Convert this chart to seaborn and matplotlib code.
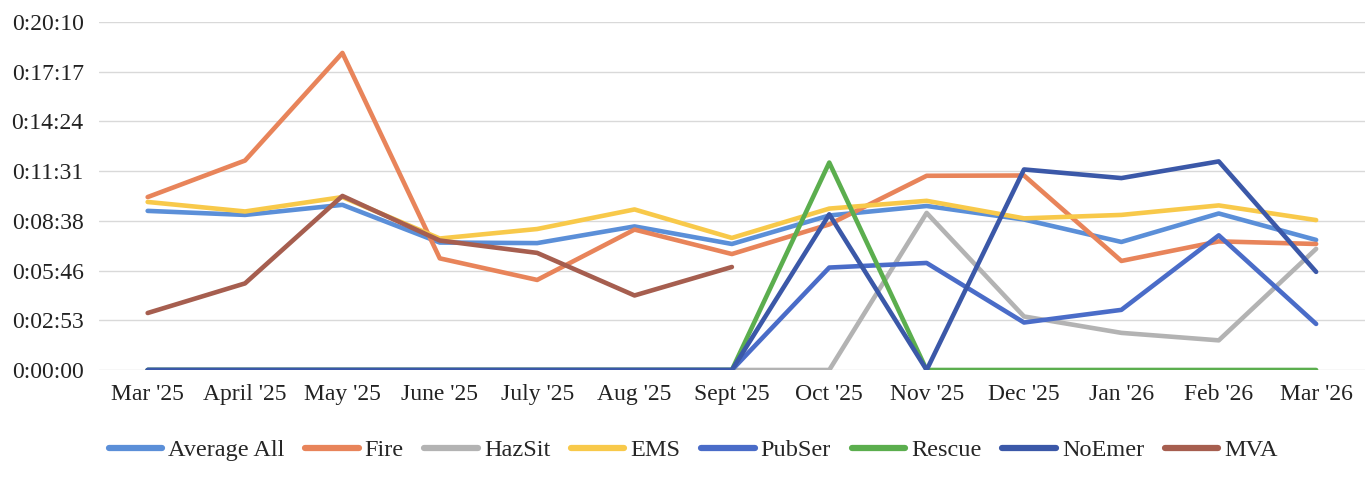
import numpy as np, pandas as pd
import matplotlib
matplotlib.use("Agg")
import matplotlib.pyplot as plt
import seaborn as sns
from matplotlib.ticker import FuncFormatter

# response times in seconds
months = ["Mar '25", "April '25", "May '25", "June '25", "July '25", "Aug '25", "Sept '25",
          "Oct '25", "Nov '25", "Dec '25", "Jan '26", "Feb '26", "Mar '26"]
average_all = [553, 539, 574, 443, 441, 499, 438, 537, 570, 523, 445, 544, 452]
fire = [601, 728, 1102, 388, 313, 488, 403, 506, 675, 676, 379, 447, 438]
hazsit = [0, 0, 0, 0, 0, 0, 0, 0, 546, 186, 129, 103, 421]
ems = [584, 551, 601, 457, 490, 558, 459, 561, 588, 527, 539, 572, 521]
pubser = [0, 0, 0, 0, 0, 0, 0, 356, 372, 165, 209, 468, 160]
rescue = [0, 0, 0, 0, 0, 0, 0, 721, 0, 0, 0, 0, 0]
noemer = [0, 0, 0, 0, 0, 0, 0, 541, 0, 697, 667, 725, 341]
mva = [198, 301, 605, 450, 407, 259, 358, np.nan, np.nan, np.nan, np.nan, np.nan, np.nan]

series = {"Average All": average_all, "Fire": fire, "HazSit": hazsit, "EMS": ems,
          "PubSer": pubser, "Rescue": rescue, "NoEmer": noemer, "MVA": mva}
colors = {"Average All": "#5B8FD8", "Fire": "#E8845A", "HazSit": "#B3B3B3", "EMS": "#F8C94A",
          "PubSer": "#4A6CC8", "Rescue": "#5BAE4E", "NoEmer": "#3B58A8", "MVA": "#A65E4F"}

df = pd.DataFrame({"month": months, **series}).melt(id_vars="month", var_name="type", value_name="secs")
df = df.dropna()

sns.set_style("white")
plt.rcParams["font.family"] = ["Liberation Serif", "DejaVu Serif"]

fig = plt.figure(figsize=(13.67, 4.79), dpi=100)
ax = fig.add_axes([0.0724, 0.2276, 0.926, 0.7265])
sns.lineplot(data=df, x="month", y="secs", hue="type", hue_order=list(series),
             palette=colors, linewidth=3.3, ax=ax, sort=False, legend=True)

ax.set_xlim(-0.5, len(months) - 0.5)
ax.set_ylim(0, 1209.6)
ax.set_yticks(np.arange(8) * 172.8)

def hms(v, pos):
    s = int(round(v))
    return f"{s // 3600}:{(s % 3600) // 60:02d}:{s % 60:02d}"

ax.yaxis.set_major_formatter(FuncFormatter(hms))
ax.grid(axis="y", color="#D9D9D9", linewidth=1)
ax.grid(axis="x", visible=False)
for sp in ax.spines.values():
    sp.set_visible(False)
ax.tick_params(axis="both", length=0, labelsize=17, colors="#222222")
ax.tick_params(axis="y", pad=11)
ax.tick_params(axis="x", pad=10)
ax.set_xlabel(""); ax.set_ylabel("")

h, l = ax.get_legend_handles_labels()
ax.get_legend().remove()
for hh in h:
    hh.set_linewidth(4.5)
    hh.set_solid_capstyle("round")
fig.legend(h, l, loc="center", bbox_to_anchor=(0.507, 0.06), ncol=8, frameon=False,
           fontsize=17.5, handlelength=2.2, handletextpad=0.25, columnspacing=0.85)

fig.savefig("out.png", dpi=100)
